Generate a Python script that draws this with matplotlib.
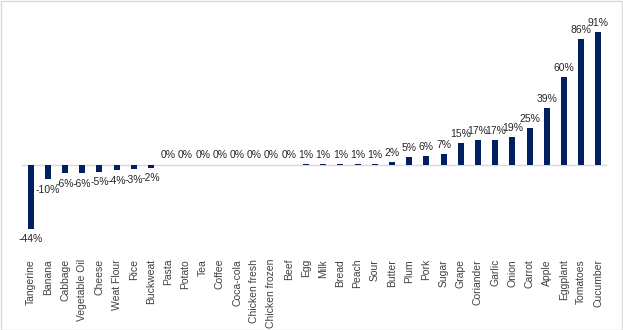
import matplotlib.pyplot as plt
import numpy as np

categories = ["Tangerine", "Banana", "Cabbage", "Vegetable Oil", "Cheese", "Weat Flour",
              "Rice", "Buckweat", "Pasta", "Potato", "Tea", "Coffee", "Coca-cola",
              "Chicken fresh", "Chicken frozen", "Beef", "Egg", "Milk", "Bread", "Peach",
              "Sour", "Butter", "Plum", "Pork", "Sugar", "Grape", "Coriander", "Garlic",
              "Onion", "Carrot", "Apple", "Eggplant", "Tomatoes", "Cucumber"]
values = [-44, -10, -6, -6, -5, -4, -3, -2, 0, 0, 0, 0, 0, 0, 0, 0,
          0.6, 0.6, 0.6, 0.6, 0.6, 2, 5, 6, 7, 15, 17, 17, 19, 25, 39, 60, 86, 91]

plt.rcParams["font.family"] = ["Liberation Sans", "DejaVu Sans"]

fig = plt.figure(figsize=(6.23, 3.30), dpi=100)
ax = fig.add_axes([22 / 623, 1 - 252 / 330, 585 / 623, (252 - 19) / 330])

x = np.arange(len(categories))
ax.bar(x, values, width=0.35, color="#002060", zorder=2)
ax.axhline(0, color="#d9d9d9", linewidth=1, zorder=1)

for xi, v in zip(x, values):
    label = "%.0f%%" % v
    if v < 0:
        ax.annotate(label, (xi, v), xytext=(0, -4), textcoords="offset points",
                    ha="center", va="top", fontsize=7.5, color="#262626")
    else:
        ax.annotate(label, (xi, v), xytext=(0, 3), textcoords="offset points",
                    ha="center", va="bottom", fontsize=7.5, color="#262626")

ax.set_xlim(-0.5, len(categories) - 0.5)
ax.set_ylim(-60, 100)
ax.set_xticks(x)
ax.set_xticklabels(categories, rotation=90, fontsize=7.5, color="#404040", va="top")
ax.tick_params(axis="x", length=0, pad=5)
ax.set_yticks([])
for s in ax.spines.values():
    s.set_visible(False)

fig.patches.append(plt.Rectangle((0.5 / 623, 0.5 / 330), 1 - 1.5 / 623, 1 - 1.5 / 330,
                                 transform=fig.transFigure, fill=False,
                                 edgecolor="#d9d9d9", linewidth=1))

fig.savefig("out.png", dpi=100)
